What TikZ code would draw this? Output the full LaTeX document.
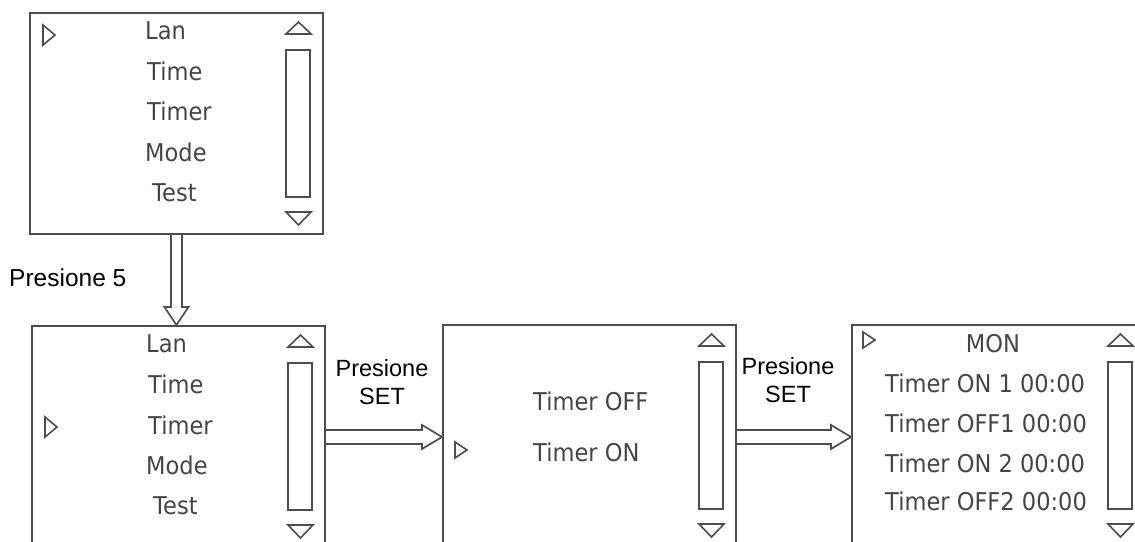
\documentclass[tikz,border=0pt]{standalone}
\usepackage{fontspec}
\setmainfont{Liberation Sans}
\newfontfamily\menufont{DejaVu Sans}[FakeStretch=0.92]
\usetikzlibrary{calc}
\definecolor{ln}{HTML}{4D4D4D}
\definecolor{tx}{HTML}{454545}
\newcommand\scrollbar[1]{%
  \begin{scope}[shift={(#1.north west)}]
    \draw[tri] (257,22) -- (269.5,10) -- (282,22) -- cycle;
    \draw[tri] (257,38) rectangle (281,185);
    \draw[tri] (257,200) -- (269.5,213) -- (282,200) -- cycle;
  \end{scope}}
\newcommand\pointer[4]{% box, x, ycenter, halfheight
  \begin{scope}[shift={(#1.north west)}]
    \draw[tri] (#2,#3-#4) -- (#2+12,#3) -- (#2,#3+#4) -- cycle;
  \end{scope}}
\begin{document}
\begin{tikzpicture}[x=1pt,y=-1pt,
  screen/.style={draw=ln,line width=1.9pt,minimum width=293pt,inner sep=0pt,anchor=north west},
  item/.style={font=\menufont\fontsize{24.5}{28}\selectfont,text=tx,inner sep=0pt,anchor=base west},
  tri/.style={draw=ln,line width=1.6pt,line join=miter},
  lbl/.style={font=\fontsize{23.5}{28}\selectfont,align=center,inner sep=0pt},
  hollow/.style={draw=ln,line width=1.7pt,line join=miter}]
\useasboundingbox (0,0) rectangle (1135,541);
\clip (0,0) rectangle (1135,541);

% screens
\node[screen,minimum height=221pt] (t)  at (29,12)  {};
\node[screen,minimum height=222pt] (b1) at (31,325) {};
\node[screen,minimum height=224pt] (b2) at (442,324) {};
\node[screen,minimum height=224pt] (b3) at (851,324) {};

% scrollbars and pointers
\scrollbar{t}\scrollbar{b1}\scrollbar{b2}\scrollbar{b3}
\pointer{t}{14}{23}{10}
\pointer{b1}{14}{102}{10}
\pointer{b2}{13}{126}{8}
\pointer{b3}{12}{16}{8}

% top screen items
\begin{scope}[shift={(t.north west)}]
  \node[item] (t1) at (116,27)  {Lan};
  \node[item] (t2) at (118,68)  {Time};
  \node[item] (t3) at (118,108) {Timer};
  \node[item] (t4) at (116,149) {Mode};
  \node[item] (t5) at (123,189) {Test};
\end{scope}
% bottom-left screen items
\begin{scope}[shift={(b1.north west)}]
  \node[item] (u1) at (115,27)  {Lan};
  \node[item] (u2) at (117,68)  {Time};
  \node[item] (u3) at (117,109) {Timer};
  \node[item] (u4) at (115,149) {Mode};
  \node[item] (u5) at (122,189) {Test};
\end{scope}
% middle screen items
\begin{scope}[shift={(b2.north west)}]
  \node[item] (v1) at (91,86)  {Timer OFF};
  \node[item] (v2) at (91,137) {Timer ON};
\end{scope}
% right screen items
\begin{scope}[shift={(b3.north west)}]
  \node[item,anchor=base] (w0) at (142,28) {MON};
  \node[item] (w1) at (34,68)  {Timer ON 1 00:00};
  \node[item] (w2) at (34,108) {Timer OFF1 00:00};
  \node[item] (w3) at (34,148) {Timer ON 2 00:00};
  \node[item] (w4) at (34,186) {Timer OFF2 00:00};
\end{scope}

% hollow arrows
\draw[hollow] ($(t.south)+(-5.5,0)$) -- ($(t.south |- b1.north)+(-5.5,-18)$) -- ++(-6.5,0)
  -- (t.south |- b1.north) -- ++(12,-18) -- ++(-6.5,0) -- ($(t.south)+(5.5,0)$);
\draw[hollow] ($(b1.east)+(0,-7)$) -- ($(b2.west)+(-20,-7)$) -- ++(0,-5) -- (b2.west)
  -- ++(-20,12) -- ++(0,-5) -- ($(b1.east)+(0,7)$);
\draw[hollow] ($(b2.east)+(0,-7)$) -- ($(b3.west)+(-20,-7)$) -- ++(0,-5) -- (b3.west)
  -- ++(-20,12) -- ++(0,-5) -- ($(b2.east)+(0,7)$);

% labels
\node[lbl,anchor=west,font=\fontsize{24.5}{28}\selectfont] (l1) at (9,278) {Presione 5};
\node[lbl] (l2) at (382,382) {Presione\\SET};
\node[lbl] (l3) at (788,380) {Presione\\SET};
\end{tikzpicture}
\end{document}
